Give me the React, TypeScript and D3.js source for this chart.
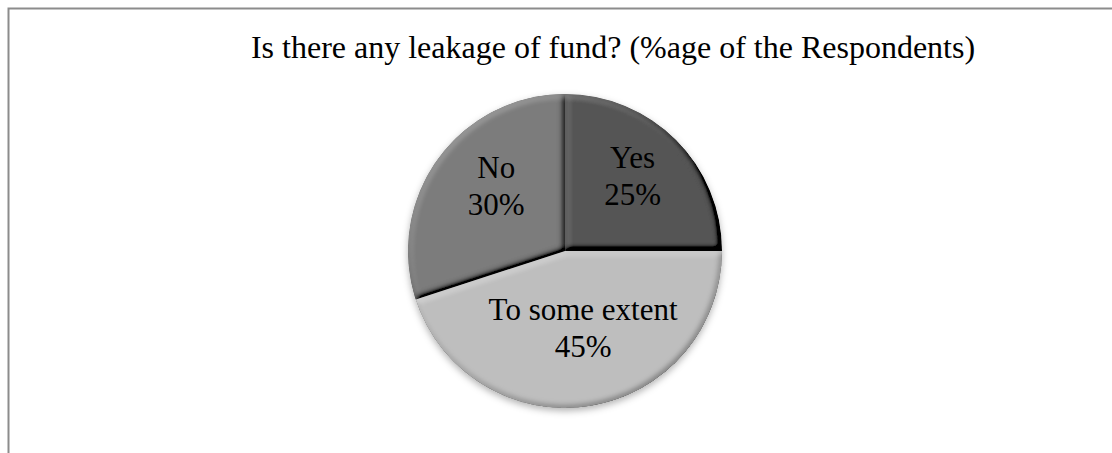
import React from "react";
import * as d3 from "d3";

const title = "Is there any leakage of fund? (%age of the Respondents)";
const categories = ["Yes", "To some extent", "No"];
const values = [25, 45, 30];
const colors = ["#545454", "#bebebe", "#7b7b7b"];

const W = 1112;
const H = 453;
const cx = 565;
const cy = 251;
const R = 157;

export default function App() {
  const pie = d3
    .pie<number>()
    .sort(null)
    .value((d) => d)
    .startAngle(0)
    .endAngle(2 * Math.PI);
  const arcs = pie(values);
  const arc = d3.arc<d3.PieArcDatum<number>>().innerRadius(0).outerRadius(R);
  const labelArc = d3
    .arc<d3.PieArcDatum<number>>()
    .innerRadius(90)
    .outerRadius(90);
  const total = d3.sum(values);
  const fontSize = 31;
  const lineGap = 37;
  const elev = 55;

  return (
    <svg
      width={W}
      height={H}
      style={{ position: "absolute", left: 0, top: 0, background: "#fff" }}
      fontFamily="'Liberation Serif', 'Times New Roman', serif"
    >
      <defs>
        <filter id="bevel" x="-10%" y="-10%" width="120%" height="120%">
          <feGaussianBlur in="SourceAlpha" stdDeviation="3" result="blur" />
          <feDiffuseLighting
            in="blur"
            surfaceScale="3"
            diffuseConstant="1"
            lightingColor="#ffffff"
            result="light"
          >
            <feDistantLight azimuth={235} elevation={elev} />
          </feDiffuseLighting>
          <feComposite
            in="SourceGraphic"
            in2="light"
            operator="arithmetic"
            k1={0}
            k2={1}
            k3={0.5}
            k4={-0.5 * Math.sin((elev * Math.PI) / 180)}
            result="lit"
          />
          <feComposite in="lit" in2="SourceAlpha" operator="in" />
        </filter>
        <filter id="shadow" x="-20%" y="-20%" width="140%" height="140%">
          <feDropShadow dx="0" dy="3" stdDeviation="3.5" floodColor="#000" floodOpacity="0.3" />
        </filter>
      </defs>
      <rect
        x={8.5}
        y={8.5}
        width={1300}
        height={800}
        fill="none"
        stroke="#8c8c8c"
        strokeWidth={2}
      />
      <text x={613} y={58} textAnchor="middle" fontSize={32} fill="#000">
        {title}
      </text>
      <g transform={`translate(${cx},${cy})`}>
        <circle r={R} fill="#888" filter="url(#shadow)" />
        {arcs.map((a, i) => (
          <path key={categories[i]} d={arc(a) || ""} fill={colors[i]} filter="url(#bevel)" />
        ))}
        {arcs.map((a, i) => {
          const [lx, ly] = labelArc.centroid(a);
          const pct = Math.round((values[i] / total) * 100) + "%";
          return (
            <text
              key={"l" + categories[i]}
              x={lx + 4}
              y={ly - 12}
              textAnchor="middle"
              fontSize={fontSize}
              fill="#000"
            >
              <tspan x={lx + 4} dy={-lineGap / 2 + fontSize * 0.35}>
                {categories[i]}
              </tspan>
              <tspan x={lx + 4} dy={lineGap}>
                {pct}
              </tspan>
            </text>
          );
        })}
      </g>
    </svg>
  );
}
